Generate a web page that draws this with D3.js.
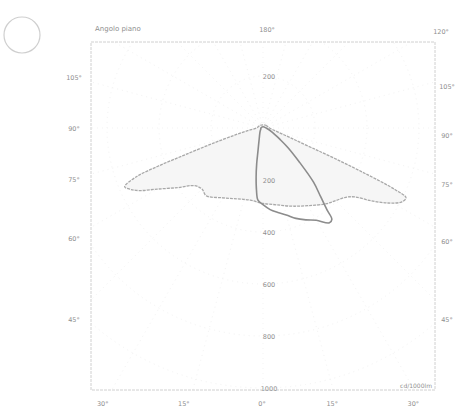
<!DOCTYPE html>
<html>
<head>
<meta charset="utf-8">
<script src="https://cdn.jsdelivr.net/npm/d3@7"></script>
<style>
  body { margin: 0; background: #fff; }
  text { font-family: "DejaVu Sans", sans-serif; fill: #8f8f8f; }
</style>
</head>
<body>
<div id="chart"></div>
<script>
// candela per 1000 lm, [gamma, value], gamma measured from the downward vertical
var c0 = [[0,290],[10,300],[20,320],[30,345],[40,380],[45,395],[50,415],[53,440],[56,500],[59,560],[62,605],[64,612],[65,560],[66,430],[67,300],[68,200],[70,120],[75,60],[90,25],[135,15],[180,12]];
var c180 = [[0,290],[10,282],[20,290],[30,310],[40,340],[45,332],[50,345],[55,400],[60,470],[63,530],[65,560],[67,578],[69,520],[70,430],[71,320],[73,200],[76,110],[80,60],[90,25],[135,15],[180,12]];
var c90 = [[0,295],[5,315],[10,330],[15,346],[20,370],[25,390],[30,410],[35,445],[37,440],[38,400],[40,345],[43,285],[47,190],[52,120],[56,80],[65,40],[90,12],[180,5]];
var c270 = [[0,295],[4,278],[6,240],[8,190],[10,140],[12,95],[15,65],[20,42],[30,25],[45,15],[60,10],[90,8],[180,5]];
var radialTicks = [200, 400, 600, 800, 1000];
var sideAngles = [105, 90, 75, 60, 45];
var bottomAngles = [30, 15, 0, 15, 30];
var bottomSigned = [-30, -15, 0, 15, 30];

var W = 457, H = 413;
var box = {left: 91, right: 435, top: 42, bottom: 390};
var cx = 263, cy = 128;

var r = d3.scaleLinear().domain([0, 1000]).range([0, 260]);

var svg = d3.select("#chart").append("svg").attr("width", W).attr("height", H);

// small circle top-left
svg.append("circle").attr("cx", 22).attr("cy", 35).attr("r", 18)
  .attr("fill", "none").attr("stroke", "#cfcfcf").attr("stroke-width", 1.2);

var g = svg.append("g").attr("transform", "translate(" + cx + "," + cy + ")");
g.append("clipPath").attr("id", "clipLocal").append("rect")
  .attr("x", box.left - cx).attr("y", box.top - cy)
  .attr("width", box.right - box.left).attr("height", box.bottom - box.top);
var grid = g.append("g").attr("clip-path", "url(#clipLocal)");

// faint grid
[200,400,600,800,1000,1200].forEach(function(v) {
  grid.append("circle").attr("r", r(v)).attr("fill", "none")
    .attr("stroke", "#f3f3f3").attr("stroke-dasharray", "1,4");
});
d3.range(-180, 180, 15).forEach(function(a) {
  var rad = a * Math.PI / 180;
  grid.append("line").attr("x1", 0).attr("y1", 0)
    .attr("x2", 800 * Math.sin(rad)).attr("y2", 800 * Math.cos(rad))
    .attr("stroke", "#f3f3f3").attr("stroke-dasharray", "1,4");
});

// frame
svg.append("rect").attr("x", box.left).attr("y", box.top)
  .attr("width", box.right - box.left).attr("height", box.bottom - box.top)
  .attr("fill", "none").attr("stroke", "#c4c4c4").attr("stroke-width", 0.8)
  .attr("stroke-dasharray", "3,1");

function polarPoints(right, left) {
  var pts = [];
  // right half from up (gamma 180) down to 0, then left half back up
  right.slice().reverse().forEach(function(d) { pts.push([Math.PI - d[0] * Math.PI / 180, r(d[1])]); });
  left.forEach(function(d, i) { if (i > 0) pts.push([Math.PI + d[0] * Math.PI / 180, r(d[1])]); });
  pts.pop();
  return pts;
}

var line = d3.lineRadial()
  .angle(function(d) { return d[0]; })
  .radius(function(d) { return d[1]; })
  .curve(d3.curveCatmullRomClosed.alpha(0.5));

g.append("path").attr("d", line(polarPoints(c0, c180)))
  .attr("fill", "#f6f6f6").attr("stroke", "#a8a8a8").attr("stroke-width", 1.3)
  .attr("stroke-dasharray", "3,1");
g.append("path").attr("d", line(polarPoints(c90, c270)))
  .attr("fill", "none").attr("stroke", "#8c8c8c").attr("stroke-width", 1.6);

// radial value labels on the vertical
radialTicks.forEach(function(v) {
  g.append("text").attr("x", 6).attr("y", r(v) + 3).attr("text-anchor", "middle")
    .attr("font-size", 6.5).text(v);
});
g.append("text").attr("x", 6).attr("y", -r(200) + 3).attr("text-anchor", "middle")
  .attr("font-size", 6.5).text(200);

// side angle labels, placed along the angle lines at the label column
var leftX = 74, rightX = 447;
sideAngles.forEach(function(a) {
  var t = Math.tan(a * Math.PI / 180);
  svg.append("text").attr("x", leftX).attr("y", cy + (cx - leftX + 2) / t + 3)
    .attr("text-anchor", "middle").attr("font-size", 6.5).text(a + "°");
  svg.append("text").attr("x", rightX).attr("y", cy + (rightX - cx) / t + 10)
    .attr("text-anchor", "middle").attr("font-size", 6.5).text(a + "°");
});

// bottom angle labels
bottomSigned.forEach(function(a, i) {
  var x = cx + (box.bottom - cy) * Math.tan(a * Math.PI / 180);
  svg.append("text").attr("x", x - 3 + (a < 0 ? -6 : 2)).attr("y", box.bottom + 16)
    .attr("text-anchor", "middle").attr("font-size", 6.5).text(bottomAngles[i] + "°");
});

// top labels
svg.append("text").attr("x", cx + 4).attr("y", box.top - 10).attr("text-anchor", "middle")
  .attr("font-size", 6.5).text("180°");
svg.append("text").attr("x", box.right + 6).attr("y", box.top - 8).attr("text-anchor", "middle")
  .attr("font-size", 6.5).text("120°");
svg.append("text").attr("x", 95).attr("y", 31).attr("font-size", 7).text("Angolo piano");
svg.append("text").attr("x", box.right - 3).attr("y", box.bottom - 2).attr("text-anchor", "end")
  .attr("font-size", 6).text("cd/1000lm");
</script>
</body>
</html>
